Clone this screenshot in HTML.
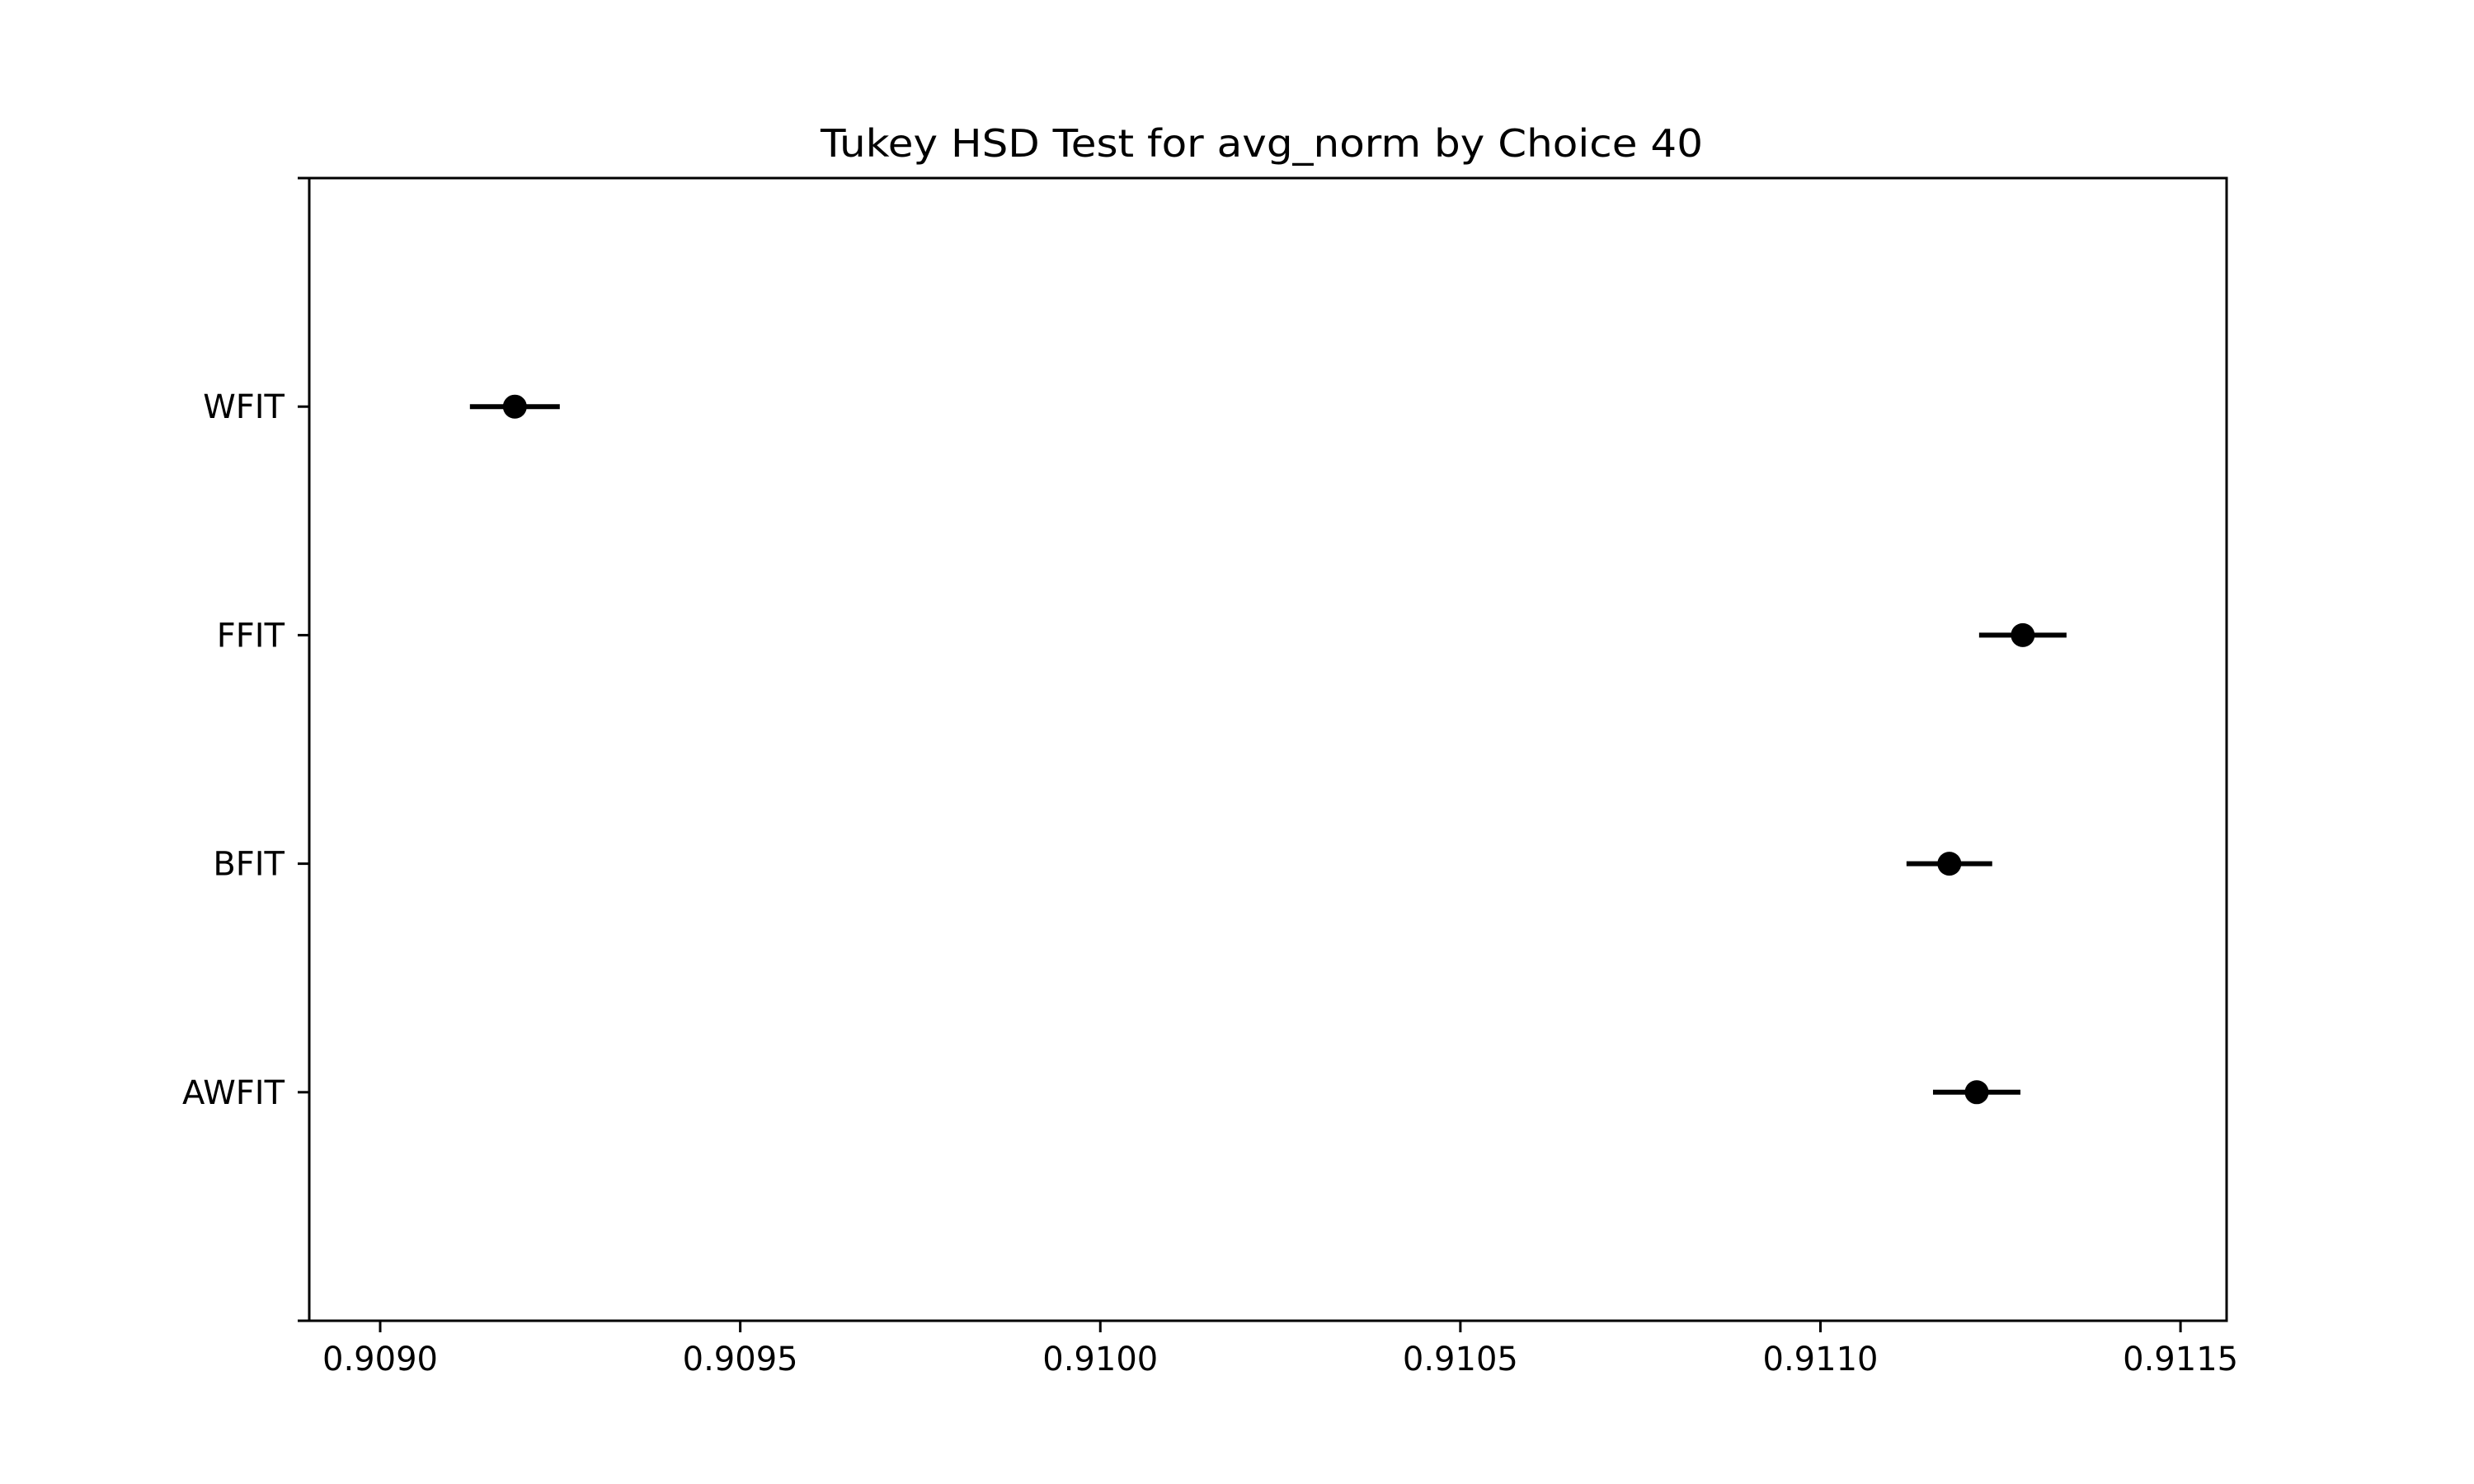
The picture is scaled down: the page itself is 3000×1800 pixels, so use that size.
<!DOCTYPE html>
<html><head><meta charset="utf-8"><style>
html,body{margin:0;padding:0;background:#fff;}
svg{display:block;font-family:"DejaVu Sans","Liberation Sans",sans-serif;}
</style></head><body>
<svg id="chart" width="3000" height="1800" viewBox="0 0 3000 1800" xmlns="http://www.w3.org/2000/svg">
<rect width="3000" height="1800" fill="#fff"/>
<text x="1530" y="190" font-size="46" text-anchor="middle" textLength="1070" lengthAdjust="spacingAndGlyphs">Tukey HSD Test for avg_norm by Choice 40</text>
<g id="marks"></g>
<rect x="375" y="216" width="2325" height="1386" fill="none" stroke="#000" stroke-width="3"/>
</svg>
<script>
const categories = ["AWFIT", "BFIT", "FFIT", "WFIT"];
const means = [0.911217, 0.911179, 0.911281, 0.909187];
const halfWidths = [0.0000607, 0.0000595, 0.0000607, 0.0000624];
const xTicks = [0.9090, 0.9095, 0.9100, 0.9105, 0.9110, 0.9115];
const xTickLabels = ["0.9090", "0.9095", "0.9100", "0.9105", "0.9110", "0.9115"];

const L = 375, R = 2700, T = 216, B = 1602;
const xMin = 0.9089015, xMax = 0.911564;
const yMin = -1, yMax = 4;
const xs = v => L + (v - xMin) / (xMax - xMin) * (R - L);
const ys = i => B - (i - yMin) / (yMax - yMin) * (B - T);
const NS = "http://www.w3.org/2000/svg";
const g = document.getElementById('marks');
function mk(tag, attrs) { const e = document.createElementNS(NS, tag); for (const k in attrs) e.setAttribute(k, attrs[k]); g.appendChild(e); return e; }

xTicks.forEach((t, i) => {
  const x = xs(t);
  const tk = mk('line', {x1: x, x2: x, y1: B, y2: B + 14, stroke: '#000', 'stroke-width': 3});
  
  
  const lb = mk('text', {x: x, y: B + 60, 'font-size': 40, 'text-anchor': 'middle'});
  lb.textContent = xTickLabels[i];
  
  
});

[yMin, yMax].forEach(v => {
  const y = ys(v);
  const tk = mk('line', {x1: L - 14, x2: L, y1: y, y2: y, stroke: '#000', 'stroke-width': 3});
  
  
});

categories.forEach((c, i) => {
  const y = ys(i);
  const tk = mk('line', {x1: L - 14, x2: L, y1: y, y2: y, stroke: '#000', 'stroke-width': 3});
  
  
  const lb = mk('text', {x: L - 30, y: y + 14, 'font-size': 40, 'text-anchor': 'end'});
  lb.textContent = c;
  
  
  const eb = mk('line', {x1: xs(means[i] - halfWidths[i]), x2: xs(means[i] + halfWidths[i]), y1: y, y2: y, stroke: '#000', 'stroke-width': 6});
  
  
  const pt = mk('circle', {cx: xs(means[i]), cy: y, r: 14.5, fill: '#000'});
  
  
});
</script>
</body></html>
